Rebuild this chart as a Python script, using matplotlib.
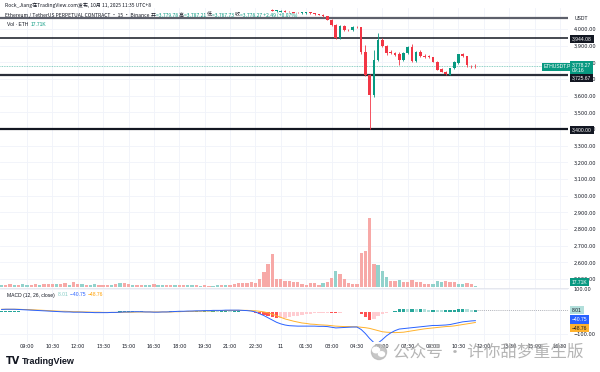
import numpy as np
import matplotlib.pyplot as plt
from matplotlib.patches import Ellipse

W, H = 600, 372
UP, DN = '#089981', '#F23645'
FONT = ['Liberation Sans', 'Noto Sans CJK SC', 'DejaVu Sans']
CJK = ['Noto Sans CJK SC', 'DejaVu Sans']

# ---- data (bar index: 0 = 09:00 Oct 10, 15 min bars) ----
# candles visible in the price window (earlier ones sit above the top)
c_idx = list(range(58, 107))
c_open = [4116, 4108, 4104, 4110, 4104, 4102, 4098, 4094, 4096, 4100, 4094, 4090, 4086, 4076, 4056,
          4024, 3946, 4018, 3996, 3994, 4012, 4010, 3862, 3724, 3604, 3814, 3932, 3898, 3862, 3858,
          3850, 3816, 3858, 3892, 3808, 3860, 3840, 3836, 3830, 3804, 3758, 3744, 3726, 3764, 3796,
          3848, 3836, 3781, 3779.78]
c_high = [4120, 4114, 4114, 4112, 4108, 4104, 4102, 4100, 4102, 4102, 4096, 4092, 4088, 4080, 4058,
          4030, 4024, 4022, 4000, 4016, 4016, 4014, 3902, 3730, 3874, 3976, 3944, 3902, 3876, 3862,
          3860, 3864, 3898, 3912, 3866, 3872, 3848, 3846, 3834, 3808, 3766, 3750, 3768, 3806, 3852,
          3856, 3840, 3786, 3787.21]
c_low = [4106, 4104, 4100, 4102, 4100, 4096, 4094, 4092, 4092, 4090, 4086, 4082, 4072, 4052, 4018,
         3940, 3942, 3990, 3988, 3990, 4006, 3850, 3718, 3400, 3590, 3808, 3892, 3846, 3850, 3840,
         3784, 3808, 3852, 3800, 3800, 3830, 3828, 3824, 3800, 3752, 3740, 3722, 3722, 3760, 3790,
         3832, 3774, 3766, 3767.73]
c_close = [4108, 4112, 4110, 4104, 4102, 4098, 4096, 4099, 4100, 4094, 4090, 4086, 4076, 4056, 4024,
           3946, 4018, 3996, 3994, 4012, 4010, 3862, 3724, 3604, 3814, 3934, 3898, 3858, 3856, 3846,
           3814, 3858, 3892, 3806, 3860, 3840, 3834, 3830, 3804, 3756, 3744, 3728, 3764, 3800, 3848,
           3838, 3781, 3775.78, 3778.27]

# volume (thousand ETH) for every bar from 07:15 Oct 10 to 11:30 Oct 11
v_idx = list(range(-6, 107))
vol = [30, 26, 35, 22, 28, 40, 26, 30, 35, 28, 45, 38,
       40, 33, 35, 52, 30, 60, 42, 34, 28, 30, 36, 26,
       32, 30, 28, 34, 48, 52, 36, 30, 26, 28, 24, 30,
       34, 28, 26, 30, 24, 22, 30, 26, 32, 28, 22, 18,
       20, 16, 18, 22, 20, 26, 30, 45, 52, 48, 56, 60, 50,
       108, 195, 295, 433, 108, 100, 74, 74, 65, 65, 43, 26, 48, 48, 26, 56, 65, 117,
       208, 165, 108, 52, 35, 35, 442, 464, 901, 295, 290, 208, 130, 74, 78, 87,
       65, 65, 87, 61, 61, 35, 35, 35, 74, 61, 74, 61, 65, 43, 35, 56, 35, 17.71]
vol_dir = ("udduduudduddduddudduduudddud"
           "uddudduuduuddudduududduudud"
           "dddd"
           "ddddddddddddddddd"
           "udduddddddddduu"
           "uddudd"
           "ddddduuudddu")

# MACD (12, 26, close)
macd = [9, 10, 10, 10, 9, 8, 7,
        6, 5, 4, 3, 2, 1, 0, -1, -2, -2, -3, -3,
        -3, -4, -4, -5, -5, -5, -5, -4,
        -4, -3, -2, -2, -1, -1, -1, -2, -2, -3,
        -3, -2, -2, -1, 0, 1, 1, 2, 2, 3,
        3, 4, 4, 5, 5, 5, 6, 6, 6, 6,
        5, 4, 2, -2, -10, -18,
        -28, -38, -48, -55, -60, -63, -64, -65,
        -65, -65, -65, -65, -66, -66, -67, -70,
        -73, -72, -71, -70, -69, -69,
        -80, -98, -120, -138, -140, -125, -108, -95,
        -85, -78, -76, -74, -72, -70, -68, -66,
        -64, -62, -62, -61, -60, -58, -54, -50, -46, -44, -42, -40.75]
signal = [10, 10, 10, 10, 10, 9, 9,
          8, 7, 6, 5, 4, 3, 2, 1, 1, 0, -1, -1,
          -2, -2, -3, -3, -3, -4, -4, -4,
          -4, -4, -3, -3, -3, -2, -2, -2, -2, -2,
          -2, -2, -2, -2, -1, -1, 0, 0, 1, 1,
          2, 2, 3, 3, 4, 4, 4, 5, 5, 5,
          5, 5, 4, 3, 1, -2,
          -6, -12, -19, -26, -33, -38, -43, -47,
          -51, -53, -56, -57, -59, -60, -61, -63,
          -65, -66, -67, -67, -68, -68,
          -70, -72, -75, -80, -85, -90, -92, -93,
          -94, -93, -92, -89, -86, -83, -80, -77,
          -75, -73, -71, -69, -67, -66, -64, -61, -58, -55, -52, -48.76]
hist = [1, 1, 1, 1, 1, 0, -1,
        -2, -2, -2, -2, -2, -2, -2, -2, -3, -2, -2, -2,
        -1, -2, -1, -2, -2, -1, -1, 0,
        0, 1, 1, 1, 2, 1, 1, 0, 0, -1,
        -1, 0, 0, 1, 1, 2, 1, 2, 1, 2,
        1, 2, 1, 2, 1, 1, 2, 1, 1, 1,
        0, -1, -2, -5, -11, -16,
        -22, -26, -29, -29, -27, -25, -21, -18,
        -14, -12, -9, -8, -7, -6, -6, -7,
        -8, -6, -4, -3, -1, -1,
        -10, -26, -38, -32, -20, -12, -6, -2,
        4, 9, 12, 11, 11, 10, 10, 9,
        8, 8, 6, 5, 5, 6, 8, 9, 10, 9, 8, 8.01]

tick_idx = list(range(0, 127, 6))
tick_lab = ['09:00', '10:30', '12:00', '13:30', '15:00', '16:30', '18:00', '19:30', '21:00',
            '22:30', '11', '01:30', '03:00', '04:30', '06:00', '07:30', '09:00', '10:30',
            '12:00', '13:30', '15:00', '16:30']
levels = [4066, 3944.08, 3725.67, 3400.00]
last_price = 3778.27

# ---- layout helpers (pixel coords, origin top-left) ----
def box(x0, y0, x1, y1):
    return [x0 / W, 1 - y1 / H, (x1 - x0) / W, (y1 - y0) / H]

def fy(y):
    return 1 - y / H

fig = plt.figure(figsize=(6, 3.72), dpi=100)
fig.patch.set_facecolor('white')
XL = (-27 / 4.23, (568 - 27) / 4.23)

# ---- price pane ----
ax = fig.add_axes(box(0, 8, 568, 288))
vx = ax.twinx()
ax.set_xlim(*XL)
ax.set_ylim(4000 - 280 * 6 + 21 * 6, 4000 + 21 * 6)
for s in ax.spines.values():
    s.set_visible(False)
ax.set_yticks(np.arange(2500, 4001, 100))
ax.set_yticklabels(['{:,.2f}'.format(v) for v in np.arange(2500, 4001, 100)])
ax.yaxis.tick_right()
ax.yaxis.set_label_position('right')
ax.tick_params(axis='y', length=0, pad=4, labelsize=3.6, labelcolor='#131722')
ax.set_xticks(tick_idx)
ax.tick_params(axis='x', length=0, labelbottom=False)
ax.grid(True, color='#f0f3fa', lw=0.6)
ax.set_axisbelow(True)

vx.set_ylim(-13, 279 * 13)
vx.set_xlim(*XL)
vx.axis('off')
vcol = ['#92D2CC' if d == 'u' else '#F7A9A7' for d in vol_dir]
vx.bar(v_idx, vol, width=0.78, color=vcol, zorder=1)

for lv, col, lw in zip(levels, ['#5d606b', '#131722', '#2a2e39', '#131722'], [1.6, 1.1, 1.6, 1.6]):
    ax.axhline(lv, color=col, lw=lw, zorder=2)
ax.axhline(last_price, color=UP, lw=0.6, ls=(0, (1, 1)), alpha=0.6, zorder=2)

ccol = [UP if c >= o else DN for o, c in zip(c_open, c_close)]
ax.vlines(c_idx, c_low, c_high, colors=ccol, lw=0.6, zorder=3)
body = [max(abs(c - o), 1.5) for o, c in zip(c_open, c_close)]
ax.bar(c_idx, body, bottom=[min(o, c) for o, c in zip(c_open, c_close)], width=0.62,
       color=ccol, zorder=4)

# ---- MACD pane ----
mx = fig.add_axes(box(0, 288, 568, 342))
mx.set_xlim(*XL)
mx.set_ylim((311.5 - 342) / 0.225, (311.5 - 288) / 0.225)
for s in mx.spines.values():
    s.set_visible(False)
mx.spines['top'].set_visible(True)
mx.spines['top'].set_color('#e0e3eb')
mx.spines['top'].set_linewidth(0.6)
mx.set_yticks([-100, 100])
mx.set_yticklabels(['\u2212100.00', '100.00'])
mx.yaxis.tick_right()
mx.tick_params(axis='y', length=0, pad=4, labelsize=3.6, labelcolor='#131722')
mx.set_xticks(tick_idx)
mx.set_xticklabels(tick_lab)
mx.tick_params(axis='x', length=0, pad=1.5, labelsize=3.6, labelcolor='#131722')
mx.grid(True, color='#f0f3fa', lw=0.6)
mx.set_axisbelow(True)
hcol = []
for k, h in enumerate(hist):
    prev = hist[k - 1] if k else h
    if h >= 0:
        hcol.append('#26A69A' if h >= prev else '#B2DFDB')
    else:
        hcol.append('#FF5252' if h < prev else '#FFCDD2')
mx.bar(v_idx, hist, width=0.78, color=hcol, zorder=2)
mx.plot(v_idx, signal, color='#FFB22C', lw=0.7, zorder=3)
mx.plot(v_idx, macd, color='#2962FF', lw=0.7, zorder=4)
mx.plot([v_idx[-1], XL[1]], [hist[-1]] * 2, color='#9598a1', lw=0.5, ls=(0, (1.5, 1.5)))

# ---- text ----
rend = fig.canvas.get_renderer()

def chain(x, y, parts, size, family=FONT, weight='normal'):
    for s, c in parts:
        t = fig.text(x / W, fy(y), s, color=c, fontsize=size, va='center', ha='left',
                     family=family, weight=weight)
        x += t.get_window_extent(renderer=rend).width
    return x

chain(5, 5, [('Rock_Jiang在TradingView.com发布, 10月 11, 2025 11:35 UTC+8', '#131722')], 3.6, CJK)
chain(5, 15, [('Ethereum / TetherUS PERPETUAL CONTRACT \u00b7 15 \u00b7 Binance ', '#131722'),
              ('开', '#131722'), ('=3,779.78 ', UP), ('高', '#131722'), ('=3,787.21 ', UP),
              ('低', '#131722'), ('=3,767.73 ', UP), ('收', '#131722'),
              ('=3,778.27 +2.49 (+0.07%)', UP)], 3.6, CJK)
chain(7, 25, [('Vol \u00b7 ETH  ', '#131722'), ('17.71K', UP)], 3.6)
chain(7, 295, [('MACD (12, 26, close)  ', '#131722'), ('8.01  ', '#80CBC4'),
               ('\u221240.75  ', '#2962FF'), ('\u221248.76', '#FFA000')], 3.6)

def tag(x, y, s, bg, fg='white', size=3.6):
    fig.text(x / W, fy(y), s, color=fg, fontsize=size, va='center', ha='left', family=FONT,
             bbox=dict(boxstyle='square,pad=0.35', fc=bg, ec='none'), zorder=6)

fig.text(575 / W, fy(18), 'USDT', fontsize=3.6, color='#131722', va='center', family=FONT)
tag(572, 39, '3,944.08', '#131722')
tag(572, 78, '3,725.67', '#131722')
tag(572, 130, '3,400.00', '#131722')
tag(544, 67, 'ETHUSDT.P', UP)
fig.text(572 / W, fy(67.5), '3,778.27\n09:16', color='white', fontsize=3.6, va='center',
         ha='left', family=FONT, linespacing=1.1,
         bbox=dict(boxstyle='square,pad=0.35', fc=UP, ec='none'), zorder=6)
tag(572, 282, '17.71K', UP)
tag(572, 310, '8.01', '#B2DFDB', '#131722')
tag(572, 319.5, '\u221240.75', '#2962FF')
tag(572, 328, '\u221248.76', '#FFB22C', '#131722')

# TradingView logo
fig.text(6 / W, fy(361), 'TV', fontsize=7, weight='bold', color='#131722', va='center',
         family=['DejaVu Sans'])
fig.text(22 / W, fy(361), 'TradingView', fontsize=6.5, weight='bold', color='#131722',
         va='center', family=['Liberation Sans'])

# WeChat watermark
wax = fig.add_axes([0, 0, 1, 1], facecolor='none')
wax.set_xlim(0, W)
wax.set_ylim(H, 0)
wax.axis('off')
wax.add_patch(Ellipse((379, 352), 15, 15, color='#b9b9b9', alpha=0.8))
wax.add_patch(Ellipse((376, 350), 7, 5.5, color='white'))
wax.add_patch(Ellipse((381.5, 354), 6, 4.5, color='white'))
fig.text(393 / W, fy(352), '公众号 \u00b7 许你甜梦重生版', fontsize=12, color='#a8a8a8',
         alpha=0.85, va='center', ha='left', family=CJK)

fig.savefig('out.png', dpi=100)
